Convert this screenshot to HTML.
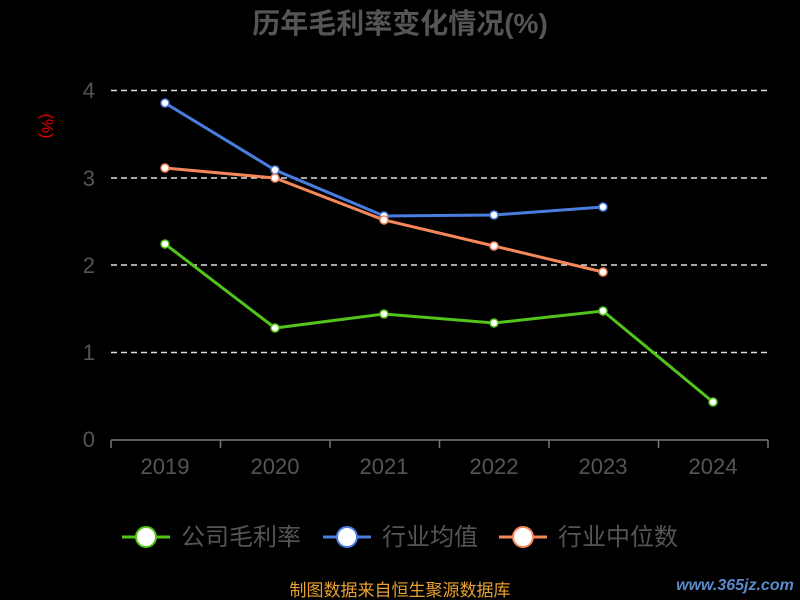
<!DOCTYPE html>
<html><head><meta charset="utf-8"><style>
body{margin:0;background:#000;}
</style></head><body>
<svg width="800" height="600" xmlns="http://www.w3.org/2000/svg" style="display:block;font-family:'Liberation Sans','Noto Sans CJK SC',sans-serif">
<rect width="800" height="600" fill="#000"/>
<text x="400" y="33" text-anchor="middle" font-size="28" font-weight="bold" fill="#555">历年毛利率变化情况(%)</text>
<text transform="translate(42,126) rotate(90)" text-anchor="middle" font-size="16" fill="#e00">(%)</text>
<g stroke="#ddd" stroke-width="1.5" stroke-dasharray="6,4">
<line x1="111" y1="90.5" x2="768" y2="90.5"/>
<line x1="111" y1="178" x2="768" y2="178"/>
<line x1="111" y1="265" x2="768" y2="265"/>
<line x1="111" y1="352.5" x2="768" y2="352.5"/>
</g>
<g stroke="#777" stroke-width="1.5">
<line x1="111" y1="440" x2="768" y2="440"/>
<line x1="111" y1="440" x2="111" y2="448"/><line x1="220.5" y1="440" x2="220.5" y2="448"/><line x1="330" y1="440" x2="330" y2="448"/><line x1="439.5" y1="440" x2="439.5" y2="448"/><line x1="549" y1="440" x2="549" y2="448"/><line x1="658.5" y1="440" x2="658.5" y2="448"/><line x1="768" y1="440" x2="768" y2="448"/>
</g>
<g font-size="22" fill="#555" text-anchor="end">
<text x="95" y="98">4</text><text x="95" y="186">3</text><text x="95" y="273">2</text><text x="95" y="360">1</text><text x="95" y="447">0</text>
</g>
<g font-size="22" fill="#555" text-anchor="middle">
<text x="165" y="474">2019</text><text x="275" y="474">2020</text><text x="384" y="474">2021</text><text x="494" y="474">2022</text><text x="603" y="474">2023</text><text x="713" y="474">2024</text>
</g>
<polyline points="165,103 275,170 384,216 494,215 603,207" fill="none" stroke="#4a7de0" stroke-width="3"/>
<polyline points="165,168 275,178 384,220 494,246 603,272" fill="none" stroke="#f5875a" stroke-width="3"/>
<polyline points="165,244 275,328 384,314 494,323 603,311 713,402" fill="none" stroke="#52c41a" stroke-width="3"/>
<g fill="#fff" stroke="#4a7de0" stroke-width="1.5">
<circle cx="165" cy="103" r="4"/><circle cx="275" cy="170" r="4"/><circle cx="384" cy="216" r="4"/><circle cx="494" cy="215" r="4"/><circle cx="603" cy="207" r="4"/></g>
<g fill="#fff" stroke="#f5875a" stroke-width="1.5">
<circle cx="165" cy="168" r="4"/><circle cx="275" cy="178" r="4"/><circle cx="384" cy="220" r="4"/><circle cx="494" cy="246" r="4"/><circle cx="603" cy="272" r="4"/></g>
<g fill="#fff" stroke="#52c41a" stroke-width="1.5">
<circle cx="165" cy="244" r="4"/><circle cx="275" cy="328" r="4"/><circle cx="384" cy="314" r="4"/><circle cx="494" cy="323" r="4"/><circle cx="603" cy="311" r="4"/><circle cx="713" cy="402" r="4"/></g>
<g font-size="24" fill="#555">
<line x1="122" y1="537" x2="170" y2="537" stroke="#52c41a" stroke-width="3"/><circle cx="146" cy="537" r="10" fill="#fff" stroke="#52c41a" stroke-width="2"/>
<text x="181" y="545">公司毛利率</text>
<line x1="323" y1="537" x2="371" y2="537" stroke="#4a7de0" stroke-width="3"/><circle cx="347" cy="537" r="10" fill="#fff" stroke="#4a7de0" stroke-width="2"/>
<text x="382" y="545">行业均值</text>
<line x1="499" y1="537" x2="547" y2="537" stroke="#f5875a" stroke-width="3"/><circle cx="523" cy="537" r="10" fill="#fff" stroke="#f5875a" stroke-width="2"/>
<text x="558" y="545">行业中位数</text>
</g>
<text x="400" y="596" text-anchor="middle" font-size="17" fill="#e8a030">制图数据来自恒生聚源数据库</text>
<text x="735" y="590" text-anchor="middle" font-size="16" font-weight="bold" fill="#5a8ac8" font-style="italic">www.365jz.com</text>
</svg>
</body></html>
